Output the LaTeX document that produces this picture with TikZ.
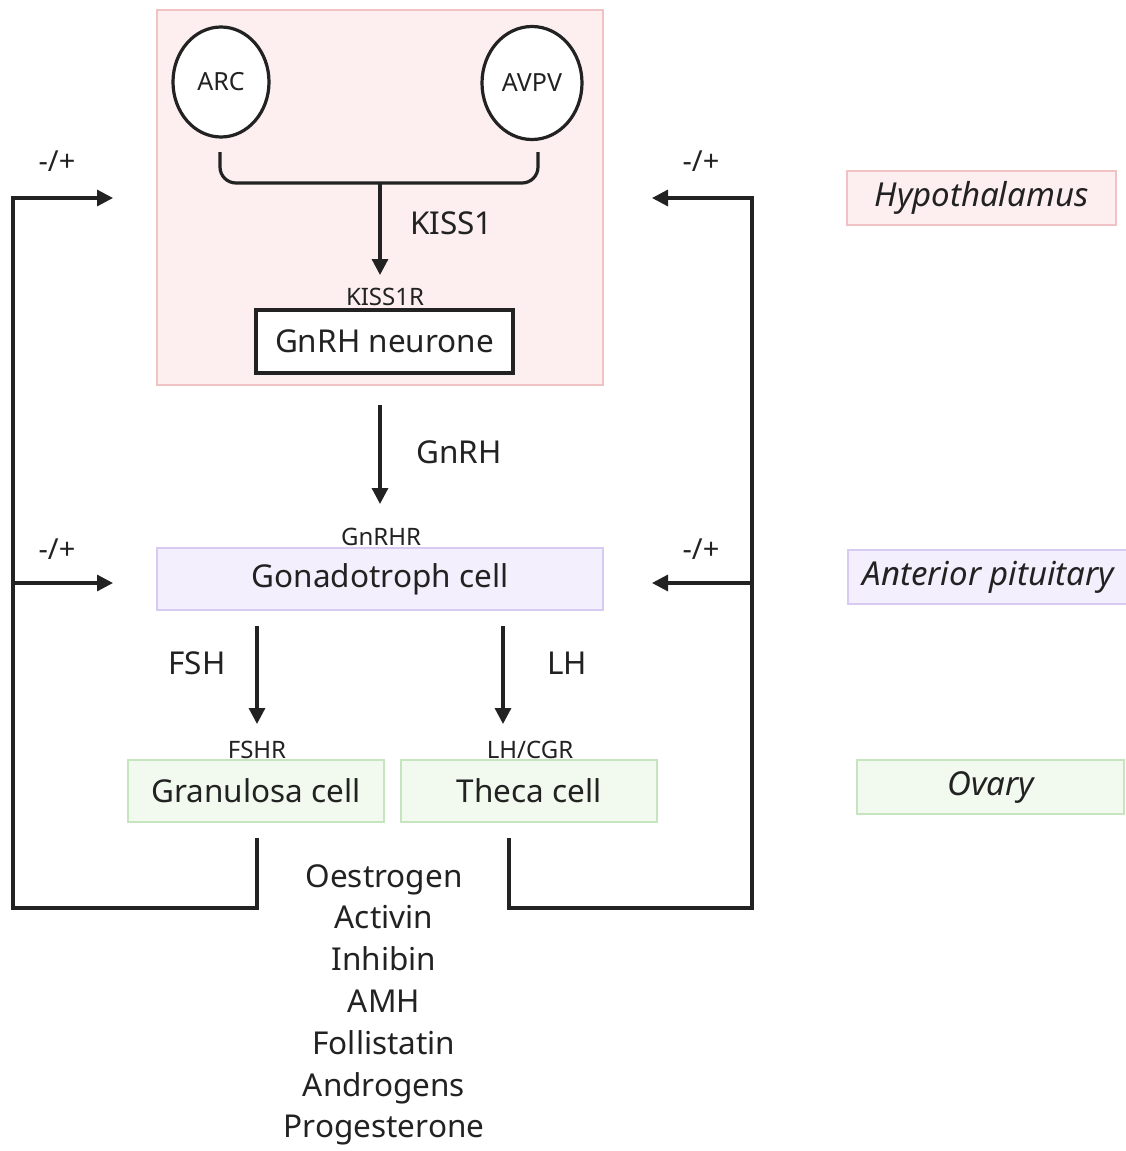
\documentclass[tikz,border=0pt]{standalone}
\usepackage{fontspec}
\setmainfont{Noto Sans}
\usetikzlibrary{arrows.meta,shapes.geometric}
\definecolor{ink}{HTML}{222222}
\definecolor{pinkfill}{HTML}{FDEFEF}
\definecolor{pinkline}{HTML}{F0C2C4}
\definecolor{purfill}{HTML}{F4EFFC}
\definecolor{purline}{HTML}{D8CBF2}
\definecolor{grnfill}{HTML}{F2FAEF}
\definecolor{grnline}{HTML}{C6E4BE}
\tikzset{
  conn/.style={draw=ink, line width=3.2pt},
  arr/.style={conn, -{Triangle[length=16pt,width=16pt]}},
  big/.style={font=\fontsize{31.5}{35}\selectfont, text=ink, inner sep=0pt},
  small/.style={font=\fontsize{24}{27}\selectfont, text=ink, inner sep=0pt},
  sign/.style={font=\fontsize{29}{32}\selectfont, text=ink, inner sep=0pt},
  region/.style={minimum width=#1, minimum height=62pt, inner sep=0pt, line width=2.2pt},
  legend/.style={font=\fontsize{33}{36}\selectfont\itshape, text=ink, inner sep=0pt, line width=2.2pt, minimum height=54pt},
  nucleus/.style={ellipse, draw=ink, line width=3.2pt, fill=white, minimum width=96pt, minimum height=110pt, font=\fontsize{25}{28}\selectfont, text=ink, inner sep=0pt}
}
\begin{document}
\begin{tikzpicture}[x=1pt,y=-1pt]
\useasboundingbox (0,0) rectangle (1126,1151);
\fill[white] (0,0) rectangle (1126,1151);
% Hypothalamus region
\node[draw=pinkline, fill=pinkfill, line width=2.2pt, minimum width=446pt, minimum height=375pt, inner sep=0pt] (hyp) at (380,197.5) {};
\node[nucleus] (arc) at (221,82) {ARC};
\node[nucleus, minimum width=100pt, minimum height=113pt] (avpv) at (532,83) {AVPV};
\coordinate (bl) at (220,152);
\coordinate (br) at (538,152);
\coordinate (bm) at (380,183);
\draw[conn, rounded corners=16pt] (bl) -- (220,183) -- (538,183) -- (br);
\node[small] (kiss1r) at (385,297) {KISS1R};
\coordinate (kissend) at (380,275);
\draw[arr] (bm) -- (kissend);
\node[big, anchor=west] (kiss1) at (410,223) {KISS1};
\node[draw=ink, fill=white, line width=3.2pt, minimum width=257pt, minimum height=63pt, inner sep=0pt, big] (gnrhn) at (384.5,341.5) {GnRH neurone};
% GnRH arrow
\coordinate (g1) at (380,405);
\coordinate (g2) at (380,504);
\draw[arr] (g1) -- (g2);
\node[big, anchor=west] (gnrh) at (416,452) {GnRH};
\node[small] (gnrhr) at (381,537) {GnRHR};
% Pituitary
\node[region=446pt, draw=purline, fill=purfill, big] (gon) at (380,579) {Gonadotroph cell};
% FSH / LH
\coordinate (f1) at (257,626);
\coordinate (f2) at (257,724);
\draw[arr] (f1) -- (f2);
\coordinate (l1) at (503,626);
\coordinate (l2) at (503,724);
\draw[arr] (l1) -- (l2);
\node[big] (fsh) at (197,663) {FSH};
\node[big] (lh) at (567,663) {LH};
\node[small] (fshr) at (257,750) {FSHR};
\node[small] (lhcgr) at (530,750) {LH/CGR};
% Ovary cells
\node[region=256pt, draw=grnline, fill=grnfill, big] (gran) at (256,791) {Granulosa cell};
\node[region=256pt, draw=grnline, fill=grnfill, big] (theca) at (529,791) {Theca cell};
% Feedback loops
\coordinate (gb) at (257,838);
\coordinate (tb) at (509,838);
\coordinate (lt) at (113,198);
\coordinate (lm) at (113,583);
\coordinate (rt) at (652,198);
\coordinate (rm) at (652,583);
\draw[arr] (gb) -- (257,908) -- (13,908) -- (13,198) -- (lt);
\draw[arr] (13,583) -- (lm);
\draw[arr] (tb) -- (509,908) -- (752,908) -- (752,198) -- (rt);
\draw[arr] (752,583) -- (rm);
\node[sign] (s1) at (57,161) {-/+};
\node[sign] (s2) at (701,161) {-/+};
\node[sign] (s3) at (57,549) {-/+};
\node[sign] (s4) at (701,549) {-/+};
% Hormones
\node[big, align=center, font=\fontsize{31.5}{41.8}\selectfont, anchor=north] (horm) at (384,864) {Oestrogen\\Activin\\Inhibin\\AMH\\Follistatin\\Androgens\\Progesterone};
% Legend
\node[legend, draw=pinkline, fill=pinkfill, minimum width=269pt] (lhyp) at (981.5,198) {Hypothalamus};
\node[legend, draw=purline, fill=purfill, minimum width=281pt] (lpit) at (988.5,577) {Anterior pituitary};
\node[legend, draw=grnline, fill=grnfill, minimum width=267pt] (lov) at (990.5,787) {Ovary};
\end{tikzpicture}
\end{document}
